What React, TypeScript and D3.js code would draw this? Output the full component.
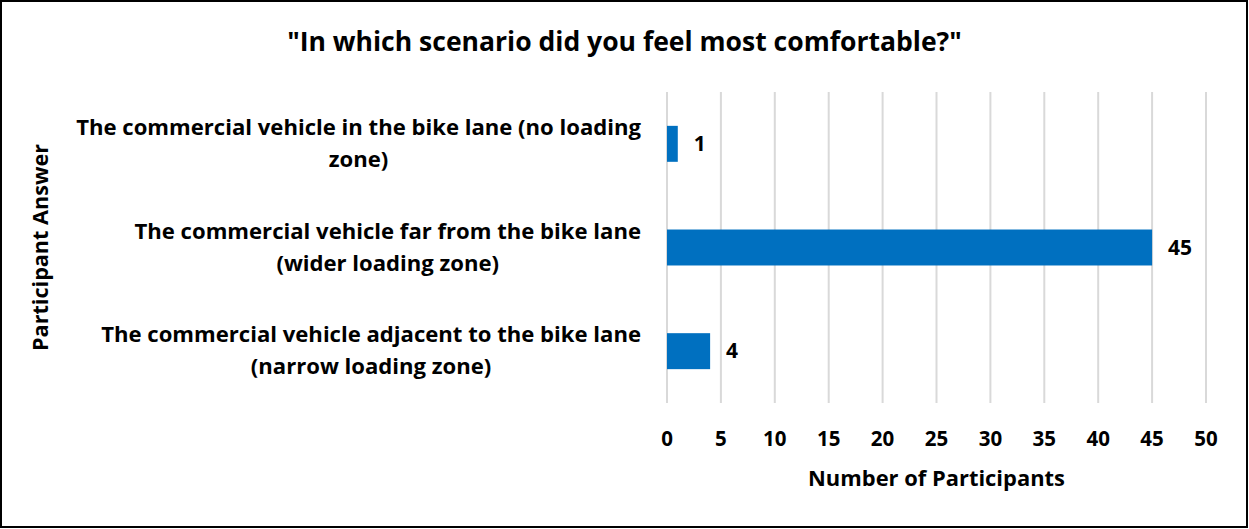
import React, { useEffect, useRef } from "react";
import * as d3 from "d3";

// Survey responses, top to bottom
const answers: string[][] = [
  ["The commercial vehicle in the bike lane (no loading", "zone)"],
  ["The commercial vehicle far from the bike lane", "(wider loading zone)"],
  ["The commercial vehicle adjacent to the bike lane", "(narrow loading zone)"],
];
const counts: number[] = [1, 45, 4];
const xTicks: number[] = [0, 5, 10, 15, 20, 25, 30, 35, 40, 45, 50];

const W = 1249;
const H = 529;
const FONT = "'Open Sans', 'Noto Sans', sans-serif";
const BAR = "#0070C0";

type Sel = d3.Selection<SVGTextElement, unknown, null, undefined>;

// scale a text's font size so that it spans the given width
function fitWidth(t: Sel, width: number) {
  t.attr("font-size", 20);
  const w = (t.node() as SVGTextElement).getComputedTextLength();
  const s = (20 * width) / w;
  t.attr("font-size", s);
  return s;
}

export default function App() {
  const ref = useRef<SVGSVGElement | null>(null);

  useEffect(() => {
    const root = d3.select(ref.current);
    root.selectAll("*").remove();
    const svg = root as unknown as d3.Selection<SVGSVGElement, unknown, null, undefined>;

    const plot = { left: 667, right: 1206, top: 92, bottom: 403 };

    const x = d3.scaleLinear().domain([0, 50]).range([plot.left, plot.right]);
    const y = d3
      .scaleBand<number>()
      .domain(d3.range(answers.length))
      .range([plot.top, plot.bottom])
      .paddingInner(0.653)
      .paddingOuter(0.3265);

    svg
      .append("rect")
      .attr("x", 1)
      .attr("y", 1)
      .attr("width", W - 3)
      .attr("height", H - 3)
      .attr("fill", "#fff")
      .attr("stroke", "#000")
      .attr("stroke-width", 2);

    // vertical gridlines
    svg
      .append("g")
      .selectAll("line")
      .data(xTicks)
      .join("line")
      .attr("x1", (d) => x(d))
      .attr("x2", (d) => x(d))
      .attr("y1", plot.top)
      .attr("y2", plot.bottom)
      .attr("stroke", "#D9D9D9")
      .attr("stroke-width", 2);

    // bars
    svg
      .append("g")
      .selectAll("rect")
      .data(counts)
      .join("rect")
      .attr("x", x(0))
      .attr("y", (_, i) => y(i)!)
      .attr("width", (d) => x(d) - x(0))
      .attr("height", y.bandwidth())
      .attr("fill", BAR);

    // value labels
    svg
      .append("g")
      .selectAll("text")
      .data(counts)
      .join("text")
      .attr("x", (d) => x(d) + 16)
      .attr("y", (_, i) => y(i)! + y.bandwidth() / 2 + 7)
      .attr("font-family", FONT)
      .attr("font-weight", 700)
      .attr("font-size", 21)
      .attr("fill", "#000")
      .text((d) => String(d));

    // x tick labels
    svg
      .append("g")
      .selectAll("text")
      .data(xTicks)
      .join("text")
      .attr("x", (d) => x(d))
      .attr("y", 446)
      .attr("text-anchor", "middle")
      .attr("font-family", FONT)
      .attr("font-weight", 700)
      .attr("font-size", 20.5)
      .attr("fill", "#000")
      .text((d) => String(d));

    // category labels: block right-aligned, lines centred within block
    const labelRight = 641;
    const lineH = 32;
    const g0 = svg.append("g");
    const probe = g0
      .append("text")
      .attr("font-family", FONT)
      .attr("font-weight", 700)
      .text(answers[2][0]) as unknown as Sel;
    const catSize = fitWidth(probe, 540);
    probe.remove();

    answers.forEach((lines, i) => {
      const g = svg.append("g");
      const texts = lines.map((ln) =>
        g
          .append("text")
          .attr("font-family", FONT)
          .attr("font-weight", 700)
          .attr("font-size", catSize)
          .attr("fill", "#000")
          .attr("text-anchor", "middle")
          .text(ln)
      );
      const widths = texts.map((t) => (t.node() as SVGTextElement).getComputedTextLength());
      const maxW = Math.max(...widths);
      const cx = labelRight - maxW / 2;
      const cy = y(i)! + y.bandwidth() / 2;
      const firstBaseline = cy - ((lines.length - 1) * lineH) / 2 + 7;
      texts.forEach((t, k) => t.attr("x", cx).attr("y", firstBaseline + k * lineH));
    });

    // title
    const title = svg
      .append("text")
      .attr("x", 624.5)
      .attr("y", 51)
      .attr("text-anchor", "middle")
      .attr("font-family", FONT)
      .attr("font-weight", 700)
      .attr("fill", "#000")
      .text('"In which scenario did you feel most comfortable?"') as unknown as Sel;
    fitWidth(title, 675);

    // axis titles
    const xTitle = svg
      .append("text")
      .attr("x", (plot.left + plot.right) / 2)
      .attr("y", 486)
      .attr("text-anchor", "middle")
      .attr("font-family", FONT)
      .attr("font-weight", 700)
      .attr("fill", "#000")
      .text("Number of Participants") as unknown as Sel;
    fitWidth(xTitle, 257);

    const yTitle = svg
      .append("text")
      .attr("transform", `translate(48, ${(plot.top + plot.bottom) / 2}) rotate(-90)`)
      .attr("text-anchor", "middle")
      .attr("font-family", FONT)
      .attr("font-weight", 700)
      .attr("fill", "#000")
      .text("Participant Answer") as unknown as Sel;
    fitWidth(yTitle, 207);
  }, []);

  return (
    <svg
      ref={ref}
      width={W}
      height={H}
      style={{ position: "absolute", left: 0, top: 0, display: "block" }}
    />
  );
}
